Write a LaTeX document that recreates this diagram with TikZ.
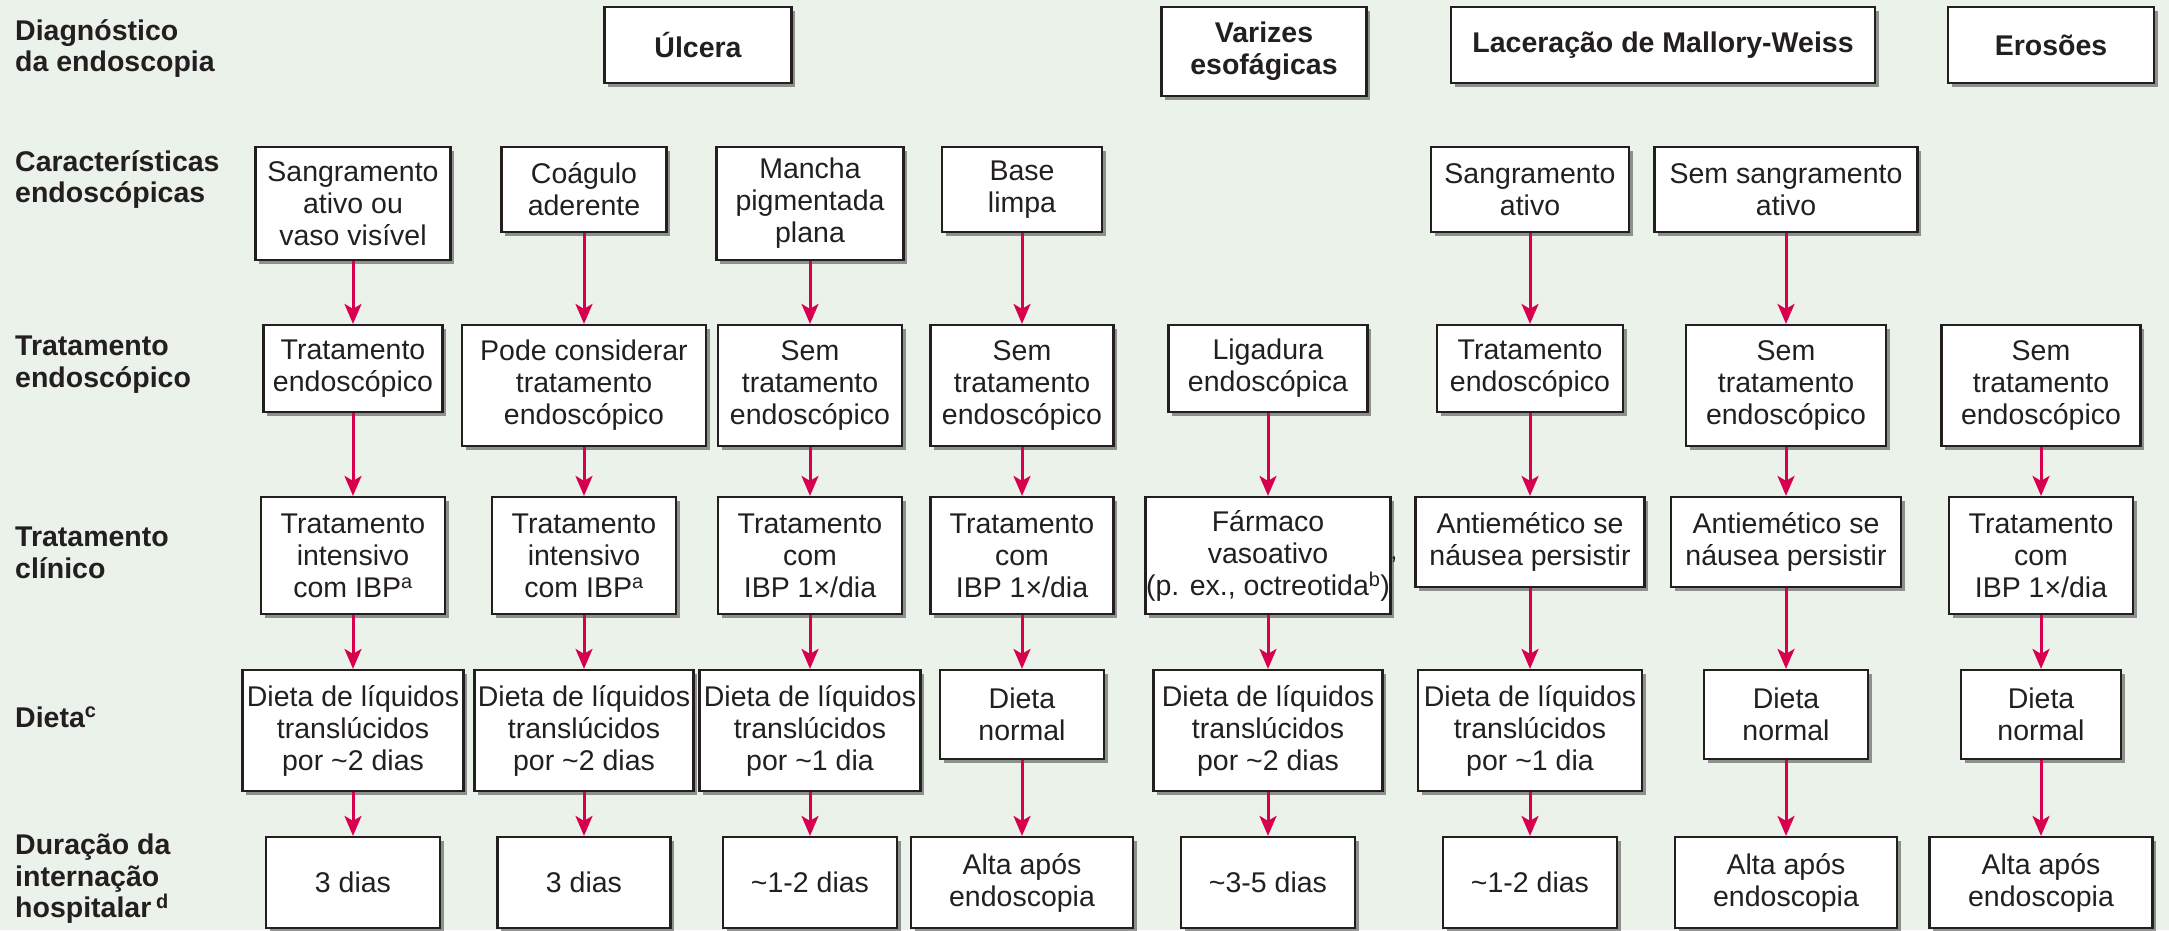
\documentclass[tikz,border=0pt]{standalone}
\usepackage{fontspec}
\setmainfont{Liberation Sans}
\usetikzlibrary{arrows.meta,shadows}
\definecolor{bgc}{RGB}{235,242,233}
\definecolor{arrc}{RGB}{216,0,78}
\definecolor{ink}{RGB}{35,31,32}
\tikzset{
  box/.style={draw=ink, line width=2.2pt, fill=white, text=ink, align=center, inner sep=0pt,
    font=\fontsize{28.5}{32}\selectfont,
    drop shadow={shadow xshift=3.5pt, shadow yshift=-3.5pt, fill=black, opacity=0.4}},
  hdr/.style={box, font=\bfseries\fontsize{28.5}{32}\selectfont},
  lbl/.style={anchor=west, align=left, inner sep=0pt, text=ink, font=\bfseries\fontsize{28.5}{31.5}\selectfont},
  arr/.style={draw=arrc, line width=3pt, -{Stealth[length=20pt,width=17pt,inset=5pt]}},
}
\begin{document}
\begin{tikzpicture}[x=1pt,y=-1pt]
\fill[bgc] (0,0) rectangle (2169,930);
\useasboundingbox (0,0) rectangle (2169,930);

% row labels
\node[lbl] (l1) at (15,48.5) {Diagnóstico\\da endoscopia};
\node[lbl] (l2) at (15,179.5) {Características\\endoscópicas};
\node[lbl] (l3) at (15,364.5) {Tratamento\\endoscópico};
\node[lbl] (l4) at (15,553) {Tratamento\\clínico};
\node[lbl, anchor=base west] (l5) at (15,727) {Dieta\textsuperscript{c}};
\node[lbl] (l6) at (15,879) {Duração da\\internação\\hospitalar\,\textsuperscript{d}};

% headers
\node[hdr, minimum width=187pt, minimum height=76pt] (h1) at (698,45) {Úlcera};
\node[hdr, minimum width=205pt, minimum height=89pt] (h2) at (1264,51.5) {Varizes\\esofágicas};
\node[hdr, minimum width=424pt, minimum height=76pt] (h3) at (1663,45) {Laceração de Mallory-Weiss};
\node[hdr, minimum width=206pt, minimum height=76pt] (h4) at (2051,45) {Erosões};

% row 2: caracteristicas endoscopicas
\node[box, minimum width=195pt, minimum height=113pt] (r2c1) at (353,203.5) {Sangramento\\ativo ou\\vaso visível};
\node[box, minimum width=165pt, minimum height=85pt] (r2c2) at (584,189.5) {Coágulo\\aderente};
\node[box, minimum width=187pt, minimum height=113pt] (r2c3) at (810,203.5) {Mancha\\pigmentada\\plana};
\node[box, minimum width=160pt, minimum height=85pt] (r2c4) at (1022,189.5) {Base\\limpa};
\node[box, minimum width=198pt, minimum height=85pt] (r2c6) at (1530,189.5) {Sangramento\\ativo};
\node[box, minimum width=263pt, minimum height=85pt] (r2c7) at (1786,189.5) {Sem sangramento\\ativo};

% row 3: tratamento endoscopico
\node[box, minimum width=179pt, minimum height=87pt] (r3c1) at (353,368.5) {Tratamento\\endoscópico};
\node[box, minimum width=244pt, minimum height=121pt] (r3c2) at (584,385.5) {Pode considerar\\tratamento\\endoscópico};
\node[box, minimum width=184pt, minimum height=121pt] (r3c3) at (810,385.5) {Sem\\tratamento\\endoscópico};
\node[box, minimum width=183pt, minimum height=121pt] (r3c4) at (1022,385.5) {Sem\\tratamento\\endoscópico};
\node[box, minimum width=199pt, minimum height=87pt] (r3c5) at (1268,368.5) {Ligadura\\endoscópica};
\node[box, minimum width=186pt, minimum height=87pt] (r3c6) at (1530,368.5) {Tratamento\\endoscópico};
\node[box, minimum width=200pt, minimum height=121pt] (r3c7) at (1786,385.5) {Sem\\tratamento\\endoscópico};
\node[box, minimum width=199pt, minimum height=121pt] (r3c8) at (2041,385.5) {Sem\\tratamento\\endoscópico};

% row 4: tratamento clinico
\node[box, minimum width=184pt, minimum height=117pt] (r4c1) at (353,555.5) {Tratamento\\intensivo\\com IBP\textsuperscript{a}};
\node[box, minimum width=184pt, minimum height=117pt] (r4c2) at (584,555.5) {Tratamento\\intensivo\\com IBP\textsuperscript{a}};
\node[box, minimum width=184pt, minimum height=117pt] (r4c3) at (810,555.5) {Tratamento\\com\\IBP 1×/dia};
\node[box, minimum width=183pt, minimum height=117pt] (r4c4) at (1022,555.5) {Tratamento\\com\\IBP 1×/dia};
\node[box, minimum width=245pt, minimum height=117pt] (r4c5) at (1268,555.5) {Fármaco\\vasoativo\\(p. ex., octreotida\textsuperscript{b})};
\node[box, minimum width=229pt, minimum height=90pt] (r4c6) at (1530,542) {Antiemético se\\náusea persistir};
\node[box, minimum width=230pt, minimum height=90pt] (r4c7) at (1786,542) {Antiemético se\\náusea persistir};
\node[box, minimum width=184pt, minimum height=117pt] (r4c8) at (2041,555.5) {Tratamento\\com\\IBP 1×/dia};
\node[text=ink, inner sep=0pt, font=\fontsize{24}{24}\selectfont] (stray) at (1394,560) {,};

% row 5: dieta
\node[box, minimum width=221pt, minimum height=121pt] (r5c1) at (353,730.5) {Dieta de líquidos\\translúcidos\\por \textasciitilde2 dias};
\node[box, minimum width=219pt, minimum height=121pt] (r5c2) at (584,730.5) {Dieta de líquidos\\translúcidos\\por \textasciitilde2 dias};
\node[box, minimum width=221pt, minimum height=121pt] (r5c3) at (810,730.5) {Dieta de líquidos\\translúcidos\\por \textasciitilde1 dia};
\node[box, minimum width=164pt, minimum height=89pt] (r5c4) at (1022,714.5) {Dieta\\normal};
\node[box, minimum width=229pt, minimum height=121pt] (r5c5) at (1268,730.5) {Dieta de líquidos\\translúcidos\\por \textasciitilde2 dias};
\node[box, minimum width=224pt, minimum height=121pt] (r5c6) at (1530,730.5) {Dieta de líquidos\\translúcidos\\por \textasciitilde1 dia};
\node[box, minimum width=164pt, minimum height=89pt] (r5c7) at (1786,714.5) {Dieta\\normal};
\node[box, minimum width=160pt, minimum height=89pt] (r5c8) at (2041,714.5) {Dieta\\normal};

% row 6: duracao
\node[box, minimum width=174pt, minimum height=91pt] (r6c1) at (353,882.5) {3 dias};
\node[box, minimum width=173pt, minimum height=91pt] (r6c2) at (584,882.5) {3 dias};
\node[box, minimum width=174pt, minimum height=91pt] (r6c3) at (810,882.5) {\textasciitilde1-2 dias};
\node[box, minimum width=222pt, minimum height=91pt] (r6c4) at (1022,882.5) {Alta após\\endoscopia};
\node[box, minimum width=174pt, minimum height=91pt] (r6c5) at (1268,882.5) {\textasciitilde3-5 dias};
\node[box, minimum width=174pt, minimum height=91pt] (r6c6) at (1530,882.5) {\textasciitilde1-2 dias};
\node[box, minimum width=222pt, minimum height=91pt] (r6c7) at (1786,882.5) {Alta após\\endoscopia};
\node[box, minimum width=223pt, minimum height=91pt] (r6c8) at (2041,882.5) {Alta após\\endoscopia};

% arrows
\foreach \c in {1,2,3,4,6,7}{
  \draw[arr] (r2c\c.south) -- (r3c\c.north);
}
\foreach \c in {1,...,8}{
  \draw[arr] (r3c\c.south) -- (r4c\c.north);
  \draw[arr] (r4c\c.south) -- (r5c\c.north);
  \draw[arr] (r5c\c.south) -- (r6c\c.north);
}
\end{tikzpicture}
\end{document}
